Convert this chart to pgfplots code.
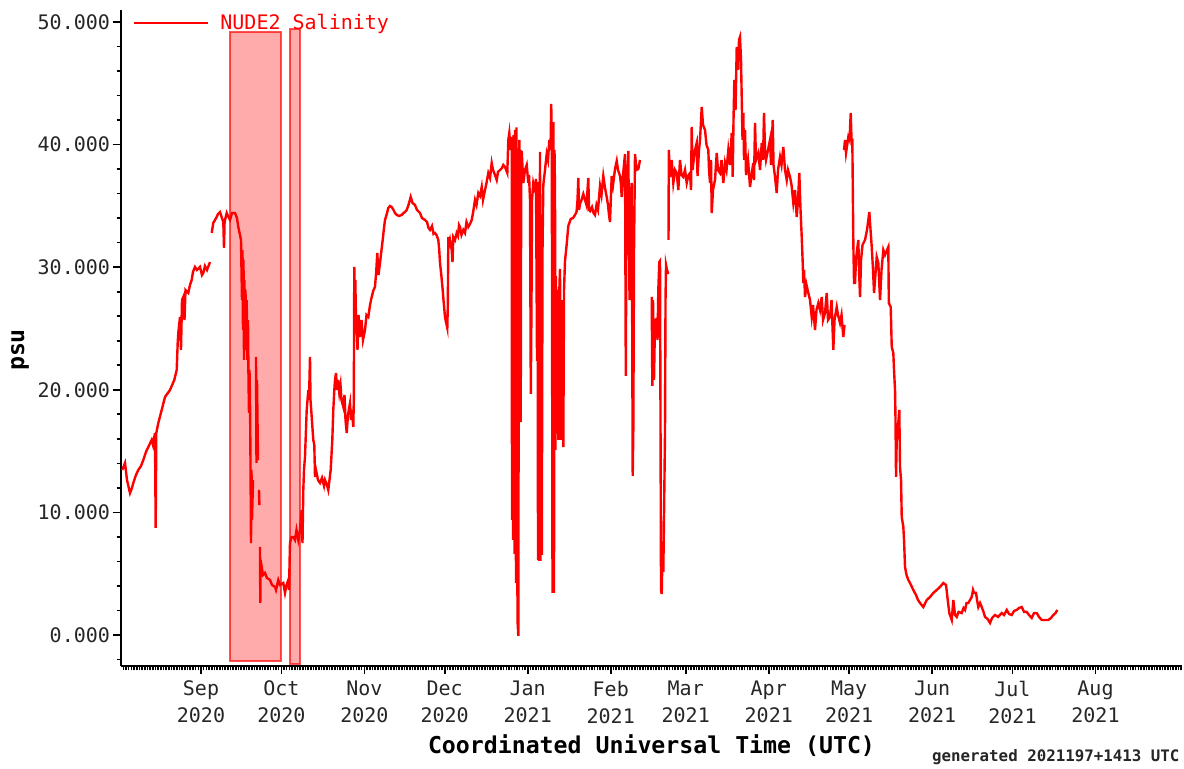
\documentclass[border=0pt]{standalone}
\usepackage{fontspec}
\setmainfont{DejaVu Sans Mono}
\setmonofont{DejaVu Sans Mono}
\usepackage{pgfplots}
\pgfplotsset{compat=1.18}
\usepackage{pgfplotstable}

\pgfplotstableread{
x y
-29.39 13.46
-28.38 14.03
-27.63 12.64
-26.51 11.58
-25.77 11.99
-25.28 12.40
-24.27 13.05
-23.41 13.46
-22.40 13.78
-21.55 14.27
-20.54 14.93
-19.68 15.33
-18.41 15.91
-17.92 15.50
-17.18 16.48
-16.92 8.73
-16.69 16.48
-15.94 17.29
-14.68 18.35
-13.44 19.41
-11.58 19.98
-9.97 20.80
-9.07 21.62
-8.70 23.82
-8.48 24.63
-7.84 25.94
-7.47 23.25
-7.09 27.32
-6.61 27.57
-6.16 25.69
-5.79 28.14
-4.74 27.90
-4.11 28.55
-3.47 28.96
-2.99 29.61
-2.24 30.02
-1.49 29.77
-0.37 30.02
0.37 29.36
0.86 29.53
1.49 30.10
2.24 29.77
3.36 30.42
3.5 nan
4.00 32.79
4.59 33.61
5.23 33.85
5.86 34.10
6.35 34.34
7.09 34.50
7.84 34.01
8.33 33.69
8.59 31.57
8.81 33.69
9.60 34.42
10.08 34.18
10.83 33.85
11.58 34.42
12.70 34.42
13.44 34.01
13.93 33.28
14.56 32.63
14.94 32.22
15.31 27.32
15.50 31.40
15.68 24.88
15.87 30.59
16.06 22.43
16.24 28.96
16.43 23.25
16.62 28.14
16.80 24.06
17.07 27.32
17.29 22.43
17.55 25.69
17.74 20.80
17.92 18.11
18.11 21.62
18.30 19.17
18.48 14.27
18.67 7.50
18.86 13.46
19.04 9.38
19.42 12.64
20.0 nan
20.54 22.68
20.72 14.03
20.91 20.80
21.10 17.54
21.28 14.27
21.5 nan
21.66 11.83
21.81 10.60
21.9 nan
22.03 7.18
22.14 2.61
22.26 6.12
22.67 5.55
23.15 4.89
23.90 5.06
24.65 4.65
25.77 4.49
26.51 4.08
27.63 3.92
28.01 3.67
28.86 4.49
29.50 4.08
30.73 4.24
31.37 3.43
31.93 4.08
32.60 4.49
32.86 3.67
33.23 7.50
33.79 7.99
34.47 7.99
35.10 7.75
35.66 8.56
36.33 7.75
36.97 8.56
37.60 10.20
37.90 7.50
38.20 11.83
38.46 13.46
38.83 14.52
39.47 18.35
40.07 19.98
40.33 19.17
40.70 22.68
40.89 19.17
41.34 17.78
41.93 15.91
42.31 15.50
42.57 12.89
42.94 13.46
43.69 12.64
44.44 12.40
45.18 12.81
45.93 12.15
46.30 12.64
47.05 12.24
47.53 11.83
47.98 12.64
48.43 13.46
49.03 15.91
49.40 18.35
49.78 19.98
50.04 20.80
50.41 21.37
50.78 19.98
51.16 20.80
51.64 19.74
52.09 20.39
52.46 19.17
53.14 18.60
53.58 19.58
53.96 17.54
54.41 16.48
54.89 17.95
55.64 18.92
56.01 17.54
56.39 18.35
56.87 16.97
57.06 19.17
57.24 30.02
57.43 24.88
57.62 28.96
57.88 25.69
58.14 24.88
58.44 23.25
58.81 26.10
59.37 24.31
59.93 25.69
60.49 24.06
61.24 24.88
61.80 26.10
62.47 25.94
63.11 26.92
63.74 27.57
64.41 28.14
64.97 28.39
65.46 29.77
65.83 31.16
66.28 29.36
66.84 30.34
67.40 31.40
67.85 32.22
68.33 33.20
68.71 33.85
69.27 34.26
69.94 34.83
70.57 34.99
71.21 34.91
71.88 34.67
72.44 34.42
73.08 34.26
73.94 34.18
74.94 34.26
75.62 34.42
76.18 34.50
76.81 34.67
77.48 35.07
78.30 35.73
78.98 35.24
79.91 35.07
80.66 34.67
81.78 34.42
82.52 34.01
83.64 33.85
84.39 33.69
84.95 33.20
85.51 33.04
86.26 33.36
86.82 32.71
87.38 32.79
87.94 32.63
88.61 32.22
88.95 31.40
89.25 30.34
89.73 29.36
90.25 28.14
90.55 27.32
91.11 25.94
91.49 25.53
91.97 25.04
92.16 26.92
92.35 32.46
92.61 31.81
92.98 32.22
93.61 31.40
93.91 30.42
94.21 32.46
94.85 32.22
95.48 32.79
95.97 32.55
96.34 33.44
96.71 33.28
97.27 32.63
97.95 33.04
98.58 32.79
99.14 33.69
99.81 33.28
100.45 33.52
101.08 33.85
101.57 34.42
102.31 35.48
102.87 35.07
103.55 36.05
104.18 35.81
104.82 36.54
105.30 35.48
106.05 36.30
106.61 36.87
107.28 37.68
107.92 37.28
108.55 38.50
109.04 37.93
109.78 37.52
110.42 37.11
110.90 37.77
111.65 37.93
112.40 38.09
112.88 38.34
113.52 38.17
114.37 37.68
114.75 40.38
115.12 40.95
115.57 39.56
116.02 40.62
116.13 9.38
116.32 40.38
116.50 7.75
116.69 40.78
117.06 6.61
117.25 41.19
117.62 4.24
117.81 41.40
118.18 1.22
118.48 -0.08
118.67 27.32
118.86 40.38
119.04 17.37
119.23 39.56
119.38 17.37
119.57 38.75
119.75 39.48
120.35 36.87
120.98 37.93
121.62 38.34
122.22 36.87
122.48 37.52
122.85 35.48
123.15 19.66
123.41 27.32
123.60 35.48
124.08 36.87
124.72 36.30
125.09 37.20
125.47 22.35
125.65 36.95
125.84 6.12
126.03 35.48
126.21 6.04
126.40 27.32
126.59 39.40
126.77 6.04
127.03 19.17
127.26 6.53
127.52 31.40
127.82 36.71
128.45 37.93
129.09 39.23
129.57 38.75
130.06 40.38
130.51 39.56
130.77 43.31
130.99 40.38
131.25 3.43
131.55 41.84
131.81 3.43
132.00 39.56
132.19 35.97
132.37 15.09
132.56 29.28
132.75 17.54
133.12 28.14
133.42 15.91
133.68 27.32
134.05 29.85
134.35 15.91
134.69 16.80
134.99 27.32
135.29 15.33
135.55 28.14
135.92 30.51
136.56 31.89
137.15 33.36
138.05 33.93
138.91 34.01
139.66 34.26
140.22 34.50
140.59 35.48
140.89 37.28
141.15 34.67
141.52 35.16
142.08 35.48
142.75 35.97
143.39 35.48
143.95 35.07
144.62 37.28
144.88 34.67
145.26 34.58
146.00 34.91
146.56 34.42
147.12 34.26
147.68 35.07
148.24 34.67
148.99 36.62
149.55 35.89
150.22 37.44
150.86 36.46
151.49 35.73
151.98 35.07
152.35 34.26
152.72 33.69
153.02 35.48
153.36 37.44
153.85 36.71
154.59 38.01
155.23 38.66
155.71 37.93
156.46 37.44
156.83 36.71
157.09 35.73
157.58 37.52
158.33 39.23
158.62 21.13
158.89 35.48
159.26 37.11
159.56 39.48
160.01 27.32
160.38 35.48
160.83 36.87
161.20 12.97
161.43 16.80
161.69 31.40
162.06 39.23
162.62 37.93
163.29 38.01
163.93 38.75
165.0 nan
168.30 27.57
168.52 20.31
168.78 27.32
169.15 20.80
169.53 25.69
170.16 25.78
170.46 24.06
170.76 28.14
171.13 30.42
171.40 30.51
171.77 3.67
172.03 3.34
172.33 6.93
172.63 5.14
172.96 11.01
173.26 16.48
173.45 27.32
173.64 30.18
174.01 29.77
174.50 29.45
174.53 nan
174.57 32.22
174.68 39.56
175.13 37.36
175.76 38.75
176.36 36.87
177.00 37.93
177.63 37.68
178.23 36.30
178.86 38.75
179.43 37.52
180.10 37.36
180.73 37.93
181.37 36.87
182.04 37.52
182.60 37.68
182.97 36.30
183.23 41.44
183.53 37.93
183.83 38.50
184.46 39.56
185.10 40.13
185.40 37.44
185.96 39.56
186.33 40.38
186.97 43.07
187.45 41.60
188.20 41.19
188.76 39.97
189.43 39.56
189.69 37.93
190.07 36.87
190.44 38.75
190.70 34.42
191.19 36.30
191.93 37.11
192.57 39.32
193.05 37.93
193.80 37.68
194.36 38.75
195.03 36.87
195.67 38.50
196.23 37.93
196.90 39.56
197.53 38.34
198.17 40.95
198.54 37.36
198.84 42.01
199.14 45.27
199.59 42.82
200.04 47.96
200.52 46.09
200.89 48.53
201.27 48.78
201.64 46.90
201.90 43.88
202.20 40.38
202.50 42.58
202.76 38.75
203.14 41.19
203.51 37.52
203.77 37.93
204.26 38.75
205.00 36.54
205.56 37.52
206.23 38.50
206.50 37.11
206.87 41.76
207.24 38.75
208.10 39.32
208.74 37.93
209.37 40.13
209.86 38.75
210.23 42.58
210.60 39.56
210.98 38.75
211.72 39.56
212.47 40.38
212.84 38.34
213.48 42.01
213.78 38.34
214.34 37.36
214.97 36.05
215.46 37.93
216.20 38.99
216.76 38.34
217.44 39.81
218.07 37.93
218.71 37.11
219.19 37.93
219.94 37.36
220.50 36.71
221.17 35.24
221.81 36.30
222.44 34.10
222.93 35.48
223.41 37.68
223.86 34.67
224.31 32.46
224.68 30.34
224.91 28.71
225.17 29.77
225.54 27.57
226.10 28.55
226.77 27.90
227.41 27.32
228.04 25.94
228.53 26.92
229.27 24.88
229.83 26.51
230.51 27.08
231.14 26.51
231.78 27.57
232.26 25.69
233.01 26.27
233.64 27.90
234.13 25.69
234.88 25.94
235.44 27.32
236.11 23.25
236.55 25.69
237.38 26.75
237.86 26.10
238.61 25.45
239.17 26.10
239.84 24.31
240.29 25.29
240.30 nan
240.10 39.56
240.48 40.38
240.85 39.32
241.71 40.62
242.16 40.38
242.61 42.58
242.90 40.38
243.20 40.38
243.58 31.98
243.84 28.71
244.21 28.71
244.58 30.59
244.96 31.40
245.45 32.22
245.70 29.77
246.08 27.57
246.45 30.59
247.01 31.81
247.94 32.22
248.69 33.04
249.55 34.50
250.00 33.04
250.45 31.65
250.93 29.77
251.31 27.90
251.68 28.96
252.31 30.83
252.91 30.34
253.55 27.32
254.11 29.77
254.78 31.40
255.41 31.00
256.64 31.65
256.83 27.08
257.54 26.75
257.92 23.49
258.51 23.00
258.77 21.62
259.15 19.98
259.33 17.54
259.52 12.89
259.78 15.91
260.01 16.48
260.45 17.54
260.75 18.35
261.01 13.70
261.39 12.64
261.65 9.63
262.25 8.81
262.51 7.75
262.88 5.55
263.44 4.89
264.11 4.49
264.75 4.24
265.98 3.67
266.99 3.26
267.74 2.85
268.48 2.61
269.71 2.28
270.98 2.85
272.22 3.10
273.45 3.43
274.72 3.67
275.95 3.92
277.18 4.24
278.19 4.08
278.83 2.85
279.42 1.79
280.32 1.22
280.92 2.85
281.55 1.63
282.19 1.47
282.86 1.88
284.05 1.79
284.73 2.20
285.29 2.04
285.85 2.61
286.52 2.61
287.15 2.85
287.79 3.10
288.27 3.67
288.65 3.43
289.39 3.43
289.77 2.85
290.25 2.28
290.89 2.61
291.52 2.28
292.19 1.88
292.75 1.47
293.69 1.31
294.62 0.98
295.37 1.39
296.49 1.63
297.61 1.47
298.99 1.79
299.85 1.63
300.86 2.04
301.72 1.71
302.72 1.63
303.58 1.96
304.59 2.04
305.45 2.20
306.46 2.28
307.32 1.88
308.32 1.88
309.18 1.63
310.19 1.39
311.05 1.79
312.06 1.79
312.92 1.47
313.93 1.22
315.16 1.22
316.39 1.22
317.40 1.39
318.26 1.63
319.08 1.79
319.75 2.04
}\salinity

\begin{document}
\begin{tikzpicture}
\useasboundingbox (-60.5pt,-51.5pt) rectangle (531.5pt,333pt);
\begin{axis}[
  scale only axis,
  width=530.5pt, height=328pt,
  xmin=-29.87, xmax=366.3,
  ymin=-2.53, ymax=50.98,
  clip mode=individual,
  axis x line=bottom, axis y line=left,
  axis line style={-, line width=1pt, black},
  tick align=outside,
  tick style={black, line width=0.8pt},
  major tick length=4pt, minor tick length=2.2pt,
  xtick={0,30,61,91,122,153,181,212,242,273,303,334},
  xticklabels={Sep\\2020,Oct\\2020,Nov\\2020,Dec\\2020,Jan\\2021,Feb\\2021,Mar\\2021,Apr\\2021,May\\2021,Jun\\2021,Jul\\2021,Aug\\2021},
  minor xtick={-29,-28,...,366},
  ytick={0,10,20,30,40,50},
  yticklabels={0.000,10.000,20.000,30.000,40.000,50.000},
  minor ytick={-2,0,...,50},
  xticklabel style={font=\fontsize{10}{13.5}\selectfont, align=center, text=black!85},
  yticklabel style={font=\fontsize{10}{12}\selectfont, text=black!85, xshift=2pt},
  xlabel={Coordinated Universal Time (UTC)},
  xlabel style={font=\fontsize{11.6}{14}\selectfont\bfseries, at={(axis description cs:0.5,-0.122)}, anchor=center},
  ylabel={psu},
  ylabel style={font=\fontsize{11.6}{14}\selectfont\bfseries, at={(axis description cs:-0.0952,0.4817)}, anchor=center, rotate=0},
  unbounded coords=jump,
  legend cell align=left,
  legend style={draw=none, fill=none, at={(axis description cs:0.0113,0.980)}, anchor=west,
    inner sep=0pt, outer sep=0pt, nodes={inner sep=0pt, text=red},
    font=\fontsize{10}{12}\selectfont, /tikz/every odd column/.append style={column sep=5.5pt}},
  legend image code/.code={\draw[#1] (0pt,0pt) -- (37pt,0pt);},
]
\addplot[red, line width=1.2pt] table[x=x, y=y] {\salinity};
\addlegendentry{NUDE2 Salinity}
\addplot[fill=red, fill opacity=0.33, draw=red, draw opacity=0.67, line width=1pt, forget plot]
  coordinates {(10.83,-2.12) (29.87,-2.12) (29.87,49.15) (10.83,49.15)} -- cycle;
\addplot[fill=red, fill opacity=0.33, draw=red, draw opacity=0.67, line width=1pt, forget plot]
  coordinates {(33.23,-2.37) (36.97,-2.37) (36.97,49.43) (33.23,49.43)} -- cycle;
\node[anchor=east, inner sep=0pt, font=\fontsize{7.9}{9}\selectfont\bfseries, text=black!85] at (axis description cs:0.998,-0.1387) {generated 2021197+1413 UTC};
\end{axis}
\end{tikzpicture}
\end{document}
